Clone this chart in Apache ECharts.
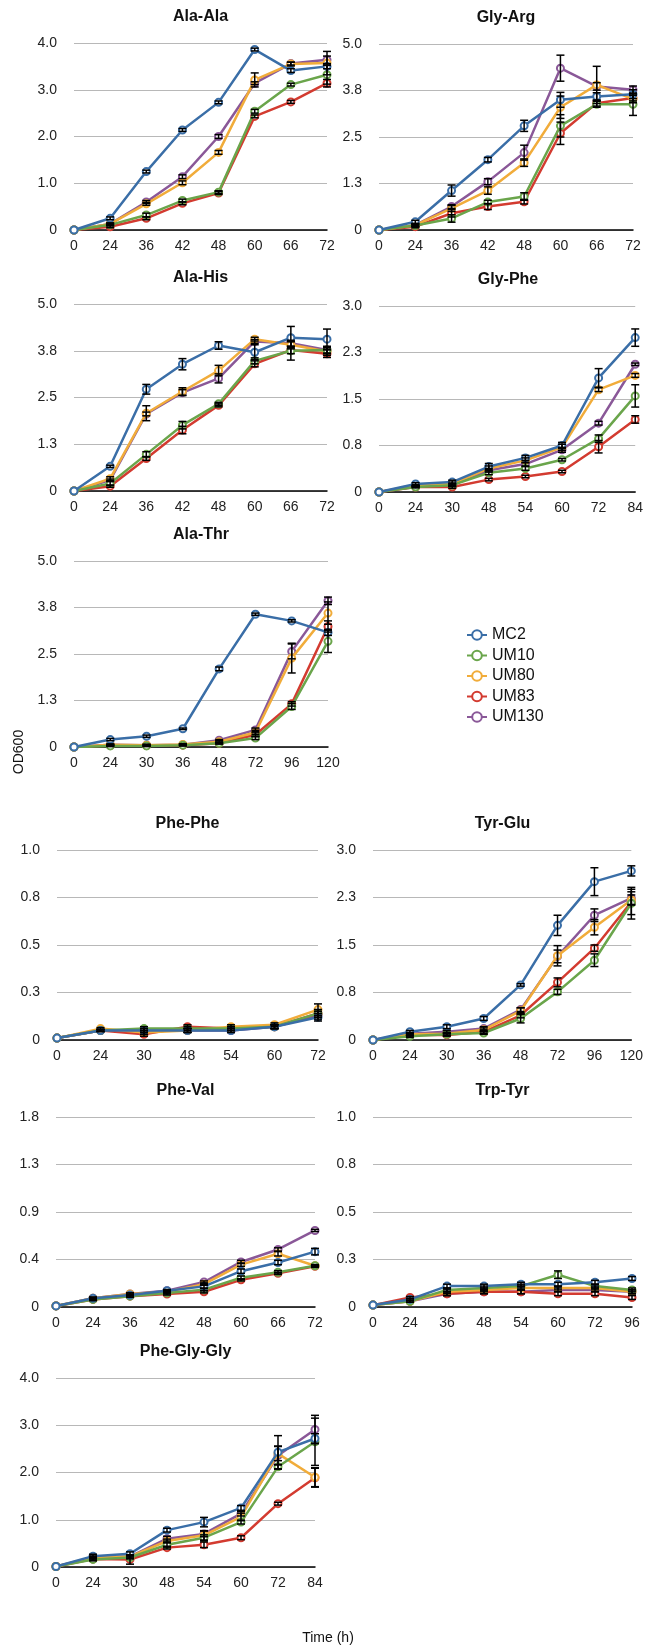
<!DOCTYPE html>
<html>
<head>
<meta charset="utf-8">
<title>OD600 growth on peptides</title>
<script src="https://cdn.jsdelivr.net/npm/echarts@6/dist/echarts.min.js"></script>
<style>
  html, body { margin: 0; padding: 0; background: #fff; }
  #chart { width: 646px; height: 1650px; }
</style>
</head>
<body>
<div id="chart"></div>
<script>
// Strains (legend order)
const strains = ['MC2', 'UM10', 'UM80', 'UM83', 'UM130'];

// Sampling times (h) used by the different panels
const hoursA = ['0', '24', '36', '42', '48', '60', '66', '72'];
const hoursB = ['0', '24', '30', '48', '54', '60', '72', '84'];
const hoursC = ['0', '24', '30', '36', '48', '72', '96', '120'];
const hoursD = ['0', '24', '30', '48', '54', '60', '72'];
const hoursE = ['0', '24', '36', '48', '54', '60', '72', '96'];

// OD600 means, one row per strain: MC2, UM10, UM80, UM83, UM130
const alaAlaOD = [
  [0, 0.25, 1.25, 2.14, 2.73, 3.86, 3.41, 3.50],
  [0, 0.11, 0.32, 0.63, 0.81, 2.54, 3.11, 3.32],
  [0, 0.13, 0.56, 1.01, 1.66, 3.21, 3.55, 3.57],
  [0, 0.07, 0.25, 0.57, 0.79, 2.43, 2.74, 3.14],
  [0, 0.13, 0.60, 1.14, 2.00, 3.14, 3.56, 3.64]
];
const alaAlaSD = [
  [0, 0.03, 0.03, 0.03, 0.03, 0.03, 0.04, 0.05],
  [0, 0.02, 0.04, 0.03, 0.03, 0.04, 0.03, 0.20],
  [0, 0.02, 0.03, 0.04, 0.04, 0.15, 0.04, 0.25],
  [0, 0.02, 0.03, 0.03, 0.03, 0.03, 0.03, 0.08],
  [0, 0.02, 0.03, 0.04, 0.04, 0.03, 0.03, 0.08]
];

const glyArgOD = [
  [0, 0.22, 1.06, 1.89, 2.80, 3.50, 3.59, 3.65],
  [0, 0.12, 0.31, 0.75, 0.90, 2.80, 3.38, 3.38],
  [0, 0.13, 0.58, 1.06, 1.81, 3.30, 3.90, 3.52],
  [0, 0.09, 0.45, 0.63, 0.76, 2.60, 3.41, 3.55],
  [0, 0.13, 0.63, 1.30, 2.08, 4.35, 3.86, 3.77]
];
const glyArgSD = [
  [0, 0.04, 0.15, 0.06, 0.15, 0.20, 0.10, 0.12],
  [0, 0.03, 0.10, 0.05, 0.10, 0.30, 0.08, 0.30],
  [0, 0.03, 0.08, 0.10, 0.10, 0.30, 0.50, 0.10],
  [0, 0.03, 0.10, 0.08, 0.06, 0.30, 0.08, 0.08],
  [0, 0.03, 0.05, 0.08, 0.20, 0.35, 0.10, 0.10]
];

const alaHisOD = [
  [0, 0.66, 2.72, 3.39, 3.89, 3.71, 4.10, 4.06],
  [0, 0.20, 0.98, 1.76, 2.33, 3.48, 3.75, 3.77],
  [0, 0.33, 2.08, 2.66, 3.22, 4.06, 3.91, 3.73],
  [0, 0.13, 0.87, 1.63, 2.29, 3.40, 3.77, 3.67],
  [0, 0.29, 2.06, 2.63, 3.01, 4.00, 3.95, 3.77]
];
const alaHisSD = [
  [0, 0.03, 0.13, 0.15, 0.10, 0.20, 0.30, 0.27],
  [0, 0.05, 0.07, 0.10, 0.04, 0.08, 0.25, 0.10],
  [0, 0.05, 0.20, 0.10, 0.14, 0.05, 0.08, 0.10],
  [0, 0.03, 0.05, 0.10, 0.04, 0.08, 0.10, 0.10],
  [0, 0.03, 0.05, 0.08, 0.12, 0.05, 0.08, 0.08]
];

const glyPheOD = [
  [0, 0.13, 0.16, 0.41, 0.55, 0.75, 1.84, 2.49],
  [0, 0.08, 0.11, 0.31, 0.38, 0.52, 0.86, 1.55],
  [0, 0.11, 0.13, 0.38, 0.51, 0.72, 1.65, 1.88],
  [0, 0.08, 0.08, 0.20, 0.25, 0.33, 0.73, 1.17],
  [0, 0.09, 0.11, 0.35, 0.45, 0.68, 1.11, 2.06]
];
const glyPheSD = [
  [0, 0.02, 0.03, 0.05, 0.04, 0.05, 0.15, 0.14],
  [0, 0.01, 0.02, 0.03, 0.03, 0.02, 0.06, 0.18],
  [0, 0.01, 0.03, 0.04, 0.04, 0.05, 0.03, 0.03],
  [0, 0.01, 0.02, 0.02, 0.02, 0.02, 0.10, 0.06],
  [0, 0.01, 0.02, 0.03, 0.03, 0.04, 0.03, 0.02]
];

const alaThrOD = [
  [0, 0.20, 0.29, 0.49, 2.10, 3.57, 3.39, 3.08],
  [0, 0.03, 0.03, 0.05, 0.10, 0.24, 1.09, 2.84],
  [0, 0.06, 0.05, 0.07, 0.14, 0.39, 2.39, 3.60],
  [0, 0.04, 0.04, 0.05, 0.10, 0.33, 1.16, 3.24],
  [0, 0.06, 0.05, 0.06, 0.18, 0.46, 2.57, 3.93]
];
const alaThrSD = [
  [0, 0.03, 0.03, 0.02, 0.05, 0.03, 0.03, 0.08],
  [0, 0.02, 0.02, 0.02, 0.02, 0.04, 0.08, 0.30],
  [0, 0.02, 0.02, 0.02, 0.03, 0.06, 0.40, 0.30],
  [0, 0.02, 0.02, 0.02, 0.02, 0.05, 0.06, 0.15],
  [0, 0.02, 0.02, 0.02, 0.02, 0.05, 0.20, 0.10]
];

const phePheOD = [
  [0.01, 0.05, 0.05, 0.05, 0.05, 0.07, 0.12],
  [0.01, 0.05, 0.06, 0.06, 0.06, 0.07, 0.14],
  [0.01, 0.06, 0.04, 0.05, 0.07, 0.08, 0.16],
  [0.01, 0.05, 0.03, 0.07, 0.06, 0.07, 0.14],
  [0.01, 0.05, 0.05, 0.05, 0.05, 0.07, 0.13]
];
const phePheSD = [
  [0, 0.005, 0.01, 0.01, 0.01, 0.01, 0.02],
  [0, 0.005, 0.01, 0.01, 0.01, 0.01, 0.02],
  [0, 0.005, 0.01, 0.01, 0.01, 0.01, 0.03],
  [0, 0.005, 0.01, 0.01, 0.01, 0.01, 0.02],
  [0, 0.005, 0.01, 0.01, 0.01, 0.01, 0.02]
];

const tyrGluOD = [
  [0, 0.13, 0.21, 0.34, 0.87, 1.81, 2.50, 2.67],
  [0, 0.06, 0.09, 0.11, 0.34, 0.76, 1.26, 2.16],
  [0, 0.09, 0.10, 0.16, 0.46, 1.33, 1.78, 2.21],
  [0, 0.08, 0.08, 0.13, 0.39, 0.91, 1.45, 2.18],
  [0, 0.10, 0.13, 0.18, 0.48, 1.32, 1.97, 2.24]
];
const tyrGluSD = [
  [0, 0.02, 0.03, 0.03, 0.02, 0.16, 0.22, 0.08],
  [0, 0.02, 0.02, 0.02, 0.07, 0.04, 0.10, 0.25],
  [0, 0.02, 0.02, 0.03, 0.05, 0.16, 0.12, 0.08],
  [0, 0.02, 0.02, 0.03, 0.04, 0.07, 0.05, 0.20],
  [0, 0.02, 0.02, 0.03, 0.03, 0.10, 0.10, 0.10]
];

const pheValOD = [
  [0.01, 0.08, 0.11, 0.15, 0.19, 0.33, 0.41, 0.51],
  [0.01, 0.07, 0.10, 0.13, 0.16, 0.27, 0.32, 0.38],
  [0.01, 0.08, 0.12, 0.14, 0.21, 0.39, 0.49, 0.38],
  [0.01, 0.07, 0.10, 0.12, 0.14, 0.25, 0.31, 0.375],
  [0.01, 0.08, 0.12, 0.15, 0.23, 0.415, 0.53, 0.705]
];
const pheValSD = [
  [0, 0.01, 0.01, 0.01, 0.015, 0.02, 0.02, 0.03],
  [0, 0.01, 0.01, 0.01, 0.01, 0.015, 0.015, 0.01],
  [0, 0.01, 0.01, 0.01, 0.01, 0.015, 0.02, 0.01],
  [0, 0.01, 0.01, 0.01, 0.01, 0.01, 0.01, 0.01],
  [0, 0.01, 0.01, 0.01, 0.01, 0.015, 0.015, 0.01]
];

const trpTyrOD = [
  [0.01, 0.04, 0.11, 0.11, 0.12, 0.12, 0.13, 0.15],
  [0.01, 0.03, 0.09, 0.10, 0.11, 0.17, 0.11, 0.09],
  [0.01, 0.03, 0.08, 0.09, 0.10, 0.10, 0.10, 0.08],
  [0.01, 0.05, 0.07, 0.08, 0.08, 0.07, 0.07, 0.05],
  [0.01, 0.03, 0.07, 0.08, 0.08, 0.09, 0.09, 0.08]
];
const trpTyrSD = [
  [0, 0.005, 0.01, 0.01, 0.01, 0.01, 0.01, 0.01],
  [0, 0.005, 0.01, 0.01, 0.01, 0.02, 0.01, 0.01],
  [0, 0.005, 0.01, 0.01, 0.01, 0.01, 0.01, 0.01],
  [0, 0.005, 0.01, 0.01, 0.01, 0.01, 0.01, 0.01],
  [0, 0.005, 0.01, 0.01, 0.01, 0.01, 0.01, 0.01]
];

const pheGlyGlyOD = [
  [0.01, 0.23, 0.28, 0.78, 0.95, 1.25, 2.43, 2.72],
  [0.01, 0.16, 0.20, 0.47, 0.62, 0.95, 2.12, 2.65],
  [0.01, 0.20, 0.22, 0.55, 0.67, 1.06, 2.40, 1.90],
  [0.01, 0.17, 0.16, 0.41, 0.47, 0.62, 1.34, 1.89],
  [0.01, 0.20, 0.22, 0.60, 0.70, 1.13, 2.36, 2.91]
];
const pheGlyGlySD = [
  [0, 0.04, 0.04, 0.04, 0.10, 0.05, 0.35, 0.10],
  [0, 0.03, 0.03, 0.05, 0.06, 0.04, 0.05, 0.50],
  [0, 0.03, 0.03, 0.04, 0.10, 0.08, 0.15, 0.20],
  [0, 0.03, 0.10, 0.03, 0.06, 0.04, 0.03, 0.20],
  [0, 0.03, 0.03, 0.05, 0.06, 0.05, 0.20, 0.30]
];

// Panel titles and y-axis maxima
const panelTitles = ['Ala-Ala', 'Gly-Arg', 'Ala-His', 'Gly-Phe', 'Ala-Thr',
                     'Phe-Phe', 'Tyr-Glu', 'Phe-Val', 'Trp-Tyr', 'Phe-Gly-Gly'];
const panelMax = [4, 5, 5, 3, 5, 1, 3, 1.75, 1, 4];
const panelHours = [hoursA, hoursA, hoursA, hoursB, hoursC, hoursD, hoursC, hoursA, hoursE, hoursB];
const panelOD = [alaAlaOD, glyArgOD, alaHisOD, glyPheOD, alaThrOD,
                 phePheOD, tyrGluOD, pheValOD, trpTyrOD, pheGlyGlyOD];
const panelSD = [alaAlaSD, glyArgSD, alaHisSD, glyPheSD, alaThrSD,
                 phePheSD, tyrGluSD, pheValSD, trpTyrSD, pheGlyGlySD];

// Plot-area boxes (px)
const boxes = [
  { left: 74,  top: 43,   right: 327, bottom: 230 },
  { left: 379, top: 44,   right: 633, bottom: 230 },
  { left: 74,  top: 304,  right: 327, bottom: 491 },
  { left: 379, top: 306,  right: 637, bottom: 492 },
  { left: 74,  top: 561,  right: 328, bottom: 747 },
  { left: 57,  top: 850,  right: 318, bottom: 1040 },
  { left: 373, top: 850,  right: 632, bottom: 1040 },
  { left: 56,  top: 1117, right: 315, bottom: 1307 },
  { left: 373, top: 1117, right: 632, bottom: 1307 },
  { left: 56,  top: 1378, right: 315, bottom: 1567 }
];

const colors = ['#3a6ea7', '#6aa54b', '#f1ac3a', '#d33b30', '#8a5898'];
const FONT = '"Liberation Sans", Arial, Helvetica, sans-serif';

const grids = [], xAxes = [], yAxes = [], series = [], graphics = [];

boxes.forEach((b, p) => {
  grids.push({ left: b.left, top: b.top, width: b.right - b.left, height: b.bottom - b.top });
  xAxes.push({
    type: 'category', gridIndex: p, data: panelHours[p], boundaryGap: false,
    axisTick: { show: false },
    axisLine: { lineStyle: { color: '#000', width: 1.5 } },
    axisLabel: { color: '#222', fontSize: 14, fontFamily: FONT, margin: 9, interval: 0 }
  });
  yAxes.push({
    type: 'value', gridIndex: p, min: 0, max: panelMax[p], interval: panelMax[p] / 4,
    axisLine: { show: false }, axisTick: { show: false },
    splitLine: { lineStyle: { color: '#b8b8b8', width: 1.2 } },
    axisLabel: {
      color: '#222', fontSize: 14, fontFamily: FONT, margin: 17,
      formatter: v => (v === 0 ? '0' : v.toFixed(1))
    }
  });
  graphics.push({
    type: 'text', x: (b.left + b.right) / 2, y: b.top - 26,
    style: { text: panelTitles[p], font: 'bold 16px ' + FONT, fill: '#111',
             textAlign: 'center', textVerticalAlign: 'middle' }
  });

  // Lines: UM130 drawn first, MC2 last (on top)
  for (let s = strains.length - 1; s >= 0; s--) {
    series.push({
      type: 'line', name: strains[s], xAxisIndex: p, yAxisIndex: p,
      data: panelOD[p][s],
      symbol: 'emptyCircle', symbolSize: 7,
      itemStyle: { color: colors[s], borderWidth: 2 },
      lineStyle: { color: colors[s], width: 2.5 },
      z: 2 + (strains.length - s) * 0.1
    });
  }
  // Error bars (mean ± SD)
  for (let s = strains.length - 1; s >= 0; s--) {
    const errData = [];
    panelOD[p][s].forEach((m, i) => {
      const sd = panelSD[p][s][i];
      if (sd > 0) errData.push([i, m - sd, m + sd]);
    });
    series.push({
      type: 'custom', name: strains[s] + ' SD', xAxisIndex: p, yAxisIndex: p,
      data: errData, encode: { x: 0, y: [1, 2] }, z: 5, silent: true,
      renderItem: (params, api) => {
        const i = api.value(0);
        const hi = api.coord([i, api.value(2)]);
        const lo = api.coord([i, api.value(1)]);
        const w = 4;
        const st = { stroke: '#000', lineWidth: 1.5 };
        return {
          type: 'group',
          children: [
            { type: 'line', shape: { x1: hi[0], y1: hi[1], x2: lo[0], y2: lo[1] }, style: st },
            { type: 'line', shape: { x1: hi[0] - w, y1: hi[1], x2: hi[0] + w, y2: hi[1] }, style: st },
            { type: 'line', shape: { x1: lo[0] - w, y1: lo[1], x2: lo[0] + w, y2: lo[1] }, style: st }
          ]
        };
      }
    });
  }
});

// Shared axis titles
graphics.push({
  type: 'text', x: 19, y: 752, rotation: Math.PI / 2,
  style: { text: 'OD600', font: '14px ' + FONT, fill: '#111',
           textAlign: 'center', textVerticalAlign: 'middle' }
});
graphics.push({
  type: 'text', x: 328, y: 1638,
  style: { text: 'Time (h)', font: '14px ' + FONT, fill: '#111',
           textAlign: 'center', textVerticalAlign: 'middle' }
});

const chart = echarts.init(document.getElementById('chart'), null, { renderer: 'canvas' });
chart.setOption({
  animation: false,
  backgroundColor: '#fff',
  textStyle: { fontFamily: FONT },
  grid: grids,
  xAxis: xAxes,
  yAxis: yAxes,
  legend: {
    data: strains, orient: 'vertical', left: 461, top: 622,
    itemWidth: 20, itemHeight: 12, itemGap: 4.5,
    textStyle: { fontSize: 16, color: '#111', fontFamily: FONT }
  },
  graphic: graphics,
  series: series
});
</script>
</body>
</html>
